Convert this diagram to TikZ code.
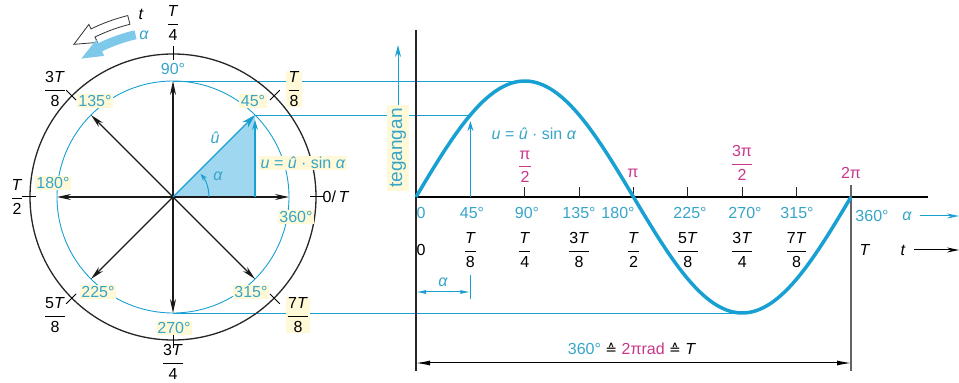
\documentclass[tikz,border=0pt]{standalone}
\usepackage{amsmath}
\usepackage{fontspec}
\setmainfont{Liberation Sans}
\newfontfamily\djv{DejaVu Sans}
\usetikzlibrary{arrows.meta}
\definecolor{cyanc}{RGB}{25,160,210}
\definecolor{cyant}{RGB}{55,165,200}
\definecolor{fillc}{RGB}{160,215,240}
\definecolor{magc}{RGB}{200,55,140}
\definecolor{ybg}{RGB}{255,249,215}
\definecolor{grayl}{RGB}{100,100,100}
\newcommand{\fr}[2]{$\genfrac{}{}{0.9pt}{0}{\text{#1}}{\text{#2}}$}
\begin{document}
\begin{tikzpicture}[x=1pt,y=1pt,font=\fontsize{16}{18}\selectfont,
  lbl/.style={inner sep=1pt,text=cyant},
  lbly/.style={inner sep=1.5pt,text=cyant,fill=ybg},
  frl/.style={inner sep=1pt},
  pil/.style={inner sep=1pt,text=magc},
  projl/.style={cyanc,line width=0.8pt},
  phasor/.style={black!90,line width=1.1pt,-{Stealth[length=14pt,width=6pt]}},
  dimar/.style={line width=1pt,{Latex[length=14pt,width=5pt]}-{Latex[length=14pt,width=5pt]}},
  tickl/.style={black,line width=1pt}]
\useasboundingbox (0,0) rectangle (959,383);
\coordinate (C) at (173,186);
\foreach \a in {0,90,135,180,225,270,315}{\path (C) ++(\a:116) coordinate (P\a);}
\coordinate (P45) at (255,268);
\coordinate (F45) at (255,186);
\coordinate (V45) at (255,263);
% graph coordinates
\coordinate (O) at (416,186);
\coordinate (G90) at (524.75,302);
\coordinate (G45) at (470.4,268);
\coordinate (G270) at (742.25,70);
% projection lines
\draw[projl] (P90) -- (G90);
\draw[projl] (P45) -- (G45);
\draw[projl] (P270) -- (G270);
% triangle
\fill[fillc] (C) -- (P45) -- (F45) -- cycle;
% circles
\draw[cyanc,line width=0.9pt] (C) circle[radius=116];
\draw[black!85,line width=1.3pt] (C) circle[radius=143];
\foreach \a in {0,45,...,315}{\draw[tickl,shift={(C)}] (\a:137) -- (\a:151);}
% phasors
\foreach \a in {0,90,135,180,225,270,315}{\draw[phasor] (C) -- (P\a);}
\draw[cyanc,line width=1.4pt,-{Stealth[length=14pt,width=8pt]}] (C) -- (P45);
\draw[cyanc,line width=1.2pt,-{Stealth[length=10pt,width=6pt]}] (F45) -- (V45);
\draw[cyanc,line width=1pt,-{Stealth[length=7pt,width=5pt]},shift={(C)}] (0:36) arc[start angle=0,end angle=40,radius=36];
% circle labels
\node[lbl] (l90) at (173,314) {90°};
\node[lbly] (l45) at (253,282) {45°};
\node[lbly] (l135) at (95,282) {135°};
\node[lbly] (l180) at (53,200) {180°};
\node[lbly] (l360) at (296,166) {360°};
\node[lbly] (l225) at (98,91) {225°};
\node[lbly] (l315) at (251,91) {315°};
\node[lbly] (l270) at (174,55) {270°};
\node[lbl] (uhat) at (215,245) {\textit{û}};
\node[lbl] (alc) at (218,207) {\textit{α}};
\node[lbly] (form1) at (303,220) {\textit{u} = \textit{û} · sin \textit{α}};
% fraction labels
\node[frl] (f1) at (173,360) {\fr{\textit{T}}{4}};
\node[frl] (f2) at (55,294) {\fr{3\textit{T}}{8}};
\node[frl,fill=ybg] (f3) at (294,294) {\fr{\textit{T}}{8}};
\node[frl] (f4) at (17,186) {\fr{\textit{T}}{2}};
\node[frl] (f5) at (336,186) {0/\,\textit{T}};
\node[frl] (f6) at (55,68) {\fr{5\textit{T}}{8}};
\node[frl,fill=ybg] (f7) at (298,68) {\fr{7\textit{T}}{8}};
\node[frl] (f8) at (173,21) {\fr{3\textit{T}}{4}};
% rotation arrows
\draw[black!80,fill=white,line width=0.8pt,shift={(C)}]
  (104:187) arc[start angle=104,end angle=116,radius=187] -- (116:192)
  -- (123:182) -- (116:172) -- (116:178) arc[start angle=116,end angle=104,radius=178] -- cycle;
\fill[fillc!75!cyanc,shift={(C)}]
  (103:171) arc[start angle=103,end angle=116,radius=171] -- (116:175)
  -- (123.5:166) -- (116:157) -- (116:162) arc[start angle=116,end angle=103,radius=162] -- cycle;
\node[frl] (tl) at (141,369) {\textit{t}};
\node[lbl] (al) at (144,348) {\textit{α}};
% graph axes
\coordinate (Ytop) at (416,353);
\coordinate (Ybot) at (416,12);
\coordinate (Xend) at (928,186);
\draw[black!85,line width=1.2pt] (Ytop) -- (Ybot);
\draw[black,line width=2pt] (O) -- (Xend);
\foreach \k in {1,...,7}{\draw[black!85,line width=1.2pt] ({416+\k*54.375},186) -- ({416+\k*54.375},196);}
\coordinate (E1) at (851,198);
\coordinate (E2) at (851,12);
\draw[grayl,line width=1.2pt] (E1) -- (E2);
% sine
\draw[cyanc,line width=3.5pt] plot[domain=0:360,samples=120,smooth] ({416+\x*1.208333},{186+116*sin(\x)});
\draw[cyanc,line width=1pt,-{Stealth[length=10pt,width=6pt]}] (470.4,186) -- (470.4,262);
\coordinate (A1) at (470.4,108);
\coordinate (A2) at (470.4,84);
\draw[cyanc,line width=0.8pt] (A1) -- (A2);
\coordinate (B0) at (416,91);
\coordinate (B1) at (470.4,91);
\draw[cyanc,line width=1pt,{Latex[length=10pt,width=4pt]}-{Latex[length=10pt,width=4pt]}] (B0) -- (B1);
\node[lbl] (ad) at (443,101) {\textit{α}};
\coordinate (D0) at (416,20);
\coordinate (D1) at (851,20);
\draw[dimar] (D0) -- (D1);
\node[inner sep=1pt] (dl) at (632,34) {\textcolor{cyant}{360°} {\djv\fontsize{14}{16}\selectfont ≙} \textcolor{magc}{2πrad} {\djv\fontsize{14}{16}\selectfont ≙} \textit{T}};
% tegangan
\node[rotate=90,fill=ybg,text=cyant,inner sep=3pt,font=\fontsize{19}{20}\selectfont] (teg) at (398,235) {tegangan};
\coordinate (tegtop) at (398,338);
\draw[cyanc,line width=1pt,-{Stealth[length=12pt,width=6pt]}] (teg.east) -- (tegtop);
\node[lbl] (form2) at (534,249) {\textit{u} = \textit{û} · sin \textit{α}};
% pi labels
\node[pil] (p1) at (525,216) {\fr{π}{2}};
\node[pil] (p2) at (633,210) {π};
\node[pil] (p3) at (742,220) {\fr{3π}{2}};
\node[pil] (p4) at (851,210) {2π};
% degree labels
\node[lbl] (d0) at (421,170) {0};
\node[lbl] (d45) at (472,170) {45°};
\node[lbl] (d90) at (527,170) {90°};
\node[lbl] (d135) at (579,170) {135°};
\node[lbl] (d180) at (618,170) {180°};
\node[lbl] (d225) at (690,170) {225°};
\node[lbl] (d270) at (745,170) {270°};
\node[lbl] (d315) at (797,170) {315°};
\node[lbl] (d360) at (872,167) {360°};
\node[lbl] (dal) at (907,167) {\textit{α}};
\coordinate (aa0) at (920,167);
\coordinate (aa1) at (959,167);
\draw[cyanc,line width=1pt,-{Stealth[length=12pt,width=5pt]}] (aa0) -- (aa1);
% T labels
\node[frl] (t0) at (421,133) {0};
\node[frl] (t1) at (470.4,133) {\fr{\textit{T}}{8}};
\node[frl] (t2) at (524.75,133) {\fr{\textit{T}}{4}};
\node[frl] (t3) at (579.1,133) {\fr{3\textit{T}}{8}};
\node[frl] (t4) at (633.5,133) {\fr{\textit{T}}{2}};
\node[frl] (t5) at (687.9,133) {\fr{5\textit{T}}{8}};
\node[frl] (t6) at (742.25,133) {\fr{3\textit{T}}{4}};
\node[frl] (t7) at (796.6,133) {\fr{7\textit{T}}{8}};
\node[frl] (tT) at (865,133) {\textit{T}};
\node[frl] (tt) at (903,133) {\textit{t}};
\coordinate (ta0) at (914,133);
\coordinate (ta1) at (959,133);
\draw[black,line width=1pt,-{Stealth[length=12pt,width=5pt]}] (ta0) -- (ta1);
\end{tikzpicture}
\end{document}
